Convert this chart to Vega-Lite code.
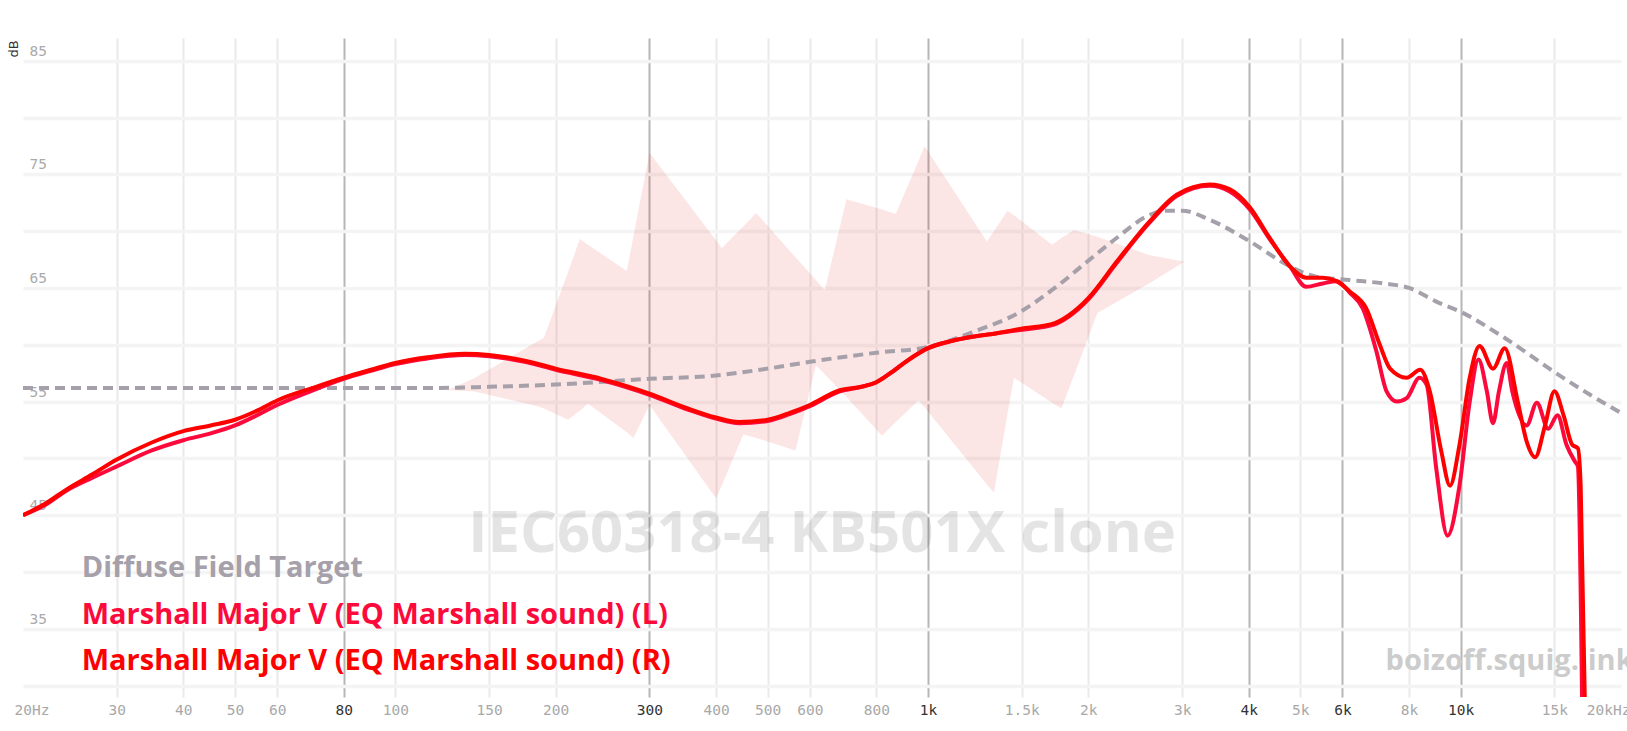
{
  "$schema": "https://vega.github.io/schema/vega-lite/v6.json",
  "width": 1598,
  "height": 659,
  "autosize": {"type": "none"},
  "padding": {"left": 23, "top": 38, "right": 6, "bottom": 34},
  "background": "white",
  "config": {"view": {"stroke": null}},
  "datasets": {
    "band": [
      {"freq": 125, "upper": 56.0, "lower": 56.0},
      {"freq": 140, "upper": 57.0, "lower": 55.9},
      {"freq": 185, "upper": 60.3, "lower": 54.6},
      {"freq": 190, "upper": 60.6, "lower": 54.4},
      {"freq": 211, "upper": 66.4, "lower": 53.4},
      {"freq": 222, "upper": 69.3, "lower": 54.2},
      {"freq": 230, "upper": 68.8, "lower": 54.8},
      {"freq": 272, "upper": 66.5, "lower": 52.3},
      {"freq": 280, "upper": 69.6, "lower": 51.8},
      {"freq": 300, "upper": 76.9, "lower": 54.7},
      {"freq": 400, "upper": 69.2, "lower": 46.5},
      {"freq": 410, "upper": 68.5, "lower": 47.6},
      {"freq": 450, "upper": 70.4, "lower": 52.1},
      {"freq": 476, "upper": 71.6, "lower": 51.8},
      {"freq": 564, "upper": 67.7, "lower": 50.7},
      {"freq": 616, "upper": 65.7, "lower": 58.2},
      {"freq": 640, "upper": 64.8, "lower": 57.4},
      {"freq": 703, "upper": 72.8, "lower": 55.4},
      {"freq": 820, "upper": 71.9, "lower": 52.0},
      {"freq": 870, "upper": 71.5, "lower": 53.2},
      {"freq": 960, "upper": 76.2, "lower": 55.1},
      {"freq": 985, "upper": 77.5, "lower": 54.5},
      {"freq": 1290, "upper": 69.1, "lower": 47.7},
      {"freq": 1330, "upper": 70.0, "lower": 47.0},
      {"freq": 1410, "upper": 71.8, "lower": 53.9},
      {"freq": 1450, "upper": 71.4, "lower": 57.1},
      {"freq": 1710, "upper": 68.8, "lower": 54.9},
      {"freq": 1780, "upper": 69.4, "lower": 54.4},
      {"freq": 1880, "upper": 70.1, "lower": 57.3},
      {"freq": 2080, "upper": 69.5, "lower": 62.8},
      {"freq": 2600, "upper": 67.9, "lower": 65.4},
      {"freq": 3030, "upper": 67.3, "lower": 67.3}
    ],
    "curves": [
      {"series": "target", "freq": 20, "db": 56.2},
      {"series": "target", "freq": 50, "db": 56.2},
      {"series": "target", "freq": 100, "db": 56.2},
      {"series": "target", "freq": 120, "db": 56.2},
      {"series": "target", "freq": 150, "db": 56.3},
      {"series": "target", "freq": 200, "db": 56.5},
      {"series": "target", "freq": 300, "db": 57.0},
      {"series": "target", "freq": 400, "db": 57.3},
      {"series": "target", "freq": 500, "db": 57.9},
      {"series": "target", "freq": 600, "db": 58.5},
      {"series": "target", "freq": 800, "db": 59.3},
      {"series": "target", "freq": 1000, "db": 59.8},
      {"series": "target", "freq": 1210, "db": 61.1},
      {"series": "target", "freq": 1490, "db": 62.9},
      {"series": "target", "freq": 1730, "db": 65.0},
      {"series": "target", "freq": 2000, "db": 67.4},
      {"series": "target", "freq": 2260, "db": 69.4},
      {"series": "target", "freq": 2600, "db": 71.4},
      {"series": "target", "freq": 2770, "db": 71.8},
      {"series": "target", "freq": 3000, "db": 71.8},
      {"series": "target", "freq": 3380, "db": 71.0},
      {"series": "target", "freq": 4020, "db": 69.1},
      {"series": "target", "freq": 4780, "db": 66.9},
      {"series": "target", "freq": 5350, "db": 66.0},
      {"series": "target", "freq": 6190, "db": 65.7},
      {"series": "target", "freq": 7150, "db": 65.4},
      {"series": "target", "freq": 8000, "db": 65.0},
      {"series": "target", "freq": 9000, "db": 63.8},
      {"series": "target", "freq": 10000, "db": 62.9},
      {"series": "target", "freq": 12100, "db": 60.6},
      {"series": "target", "freq": 15000, "db": 57.6},
      {"series": "target", "freq": 17500, "db": 55.6},
      {"series": "target", "freq": 20000, "db": 54.0},

      {"series": "L", "freq": 20, "db": 45.0},
      {"series": "L", "freq": 22, "db": 45.9},
      {"series": "L", "freq": 24.2, "db": 47.2},
      {"series": "L", "freq": 27, "db": 48.3},
      {"series": "L", "freq": 30, "db": 49.3},
      {"series": "L", "freq": 34.9, "db": 50.7},
      {"series": "L", "freq": 40, "db": 51.6},
      {"series": "L", "freq": 45, "db": 52.2},
      {"series": "L", "freq": 50, "db": 52.9},
      {"series": "L", "freq": 55, "db": 53.8},
      {"series": "L", "freq": 60, "db": 54.7},
      {"series": "L", "freq": 71, "db": 56.1},
      {"series": "L", "freq": 80, "db": 57.0},
      {"series": "L", "freq": 90, "db": 57.7},
      {"series": "L", "freq": 100, "db": 58.3},
      {"series": "L", "freq": 115, "db": 58.8},
      {"series": "L", "freq": 135, "db": 59.1},
      {"series": "L", "freq": 150, "db": 59.0},
      {"series": "L", "freq": 175, "db": 58.5},
      {"series": "L", "freq": 200, "db": 57.8},
      {"series": "L", "freq": 244, "db": 56.9},
      {"series": "L", "freq": 270, "db": 56.3},
      {"series": "L", "freq": 300, "db": 55.6},
      {"series": "L", "freq": 354, "db": 54.3},
      {"series": "L", "freq": 400, "db": 53.5},
      {"series": "L", "freq": 442, "db": 53.1},
      {"series": "L", "freq": 500, "db": 53.3},
      {"series": "L", "freq": 550, "db": 53.9},
      {"series": "L", "freq": 600, "db": 54.6},
      {"series": "L", "freq": 683, "db": 55.9},
      {"series": "L", "freq": 750, "db": 56.3},
      {"series": "L", "freq": 800, "db": 56.7},
      {"series": "L", "freq": 850, "db": 57.5},
      {"series": "L", "freq": 908, "db": 58.5},
      {"series": "L", "freq": 1000, "db": 59.7},
      {"series": "L", "freq": 1100, "db": 60.3},
      {"series": "L", "freq": 1210, "db": 60.7},
      {"series": "L", "freq": 1340, "db": 61.0},
      {"series": "L", "freq": 1490, "db": 61.3},
      {"series": "L", "freq": 1730, "db": 61.8},
      {"series": "L", "freq": 1840, "db": 62.5},
      {"series": "L", "freq": 2000, "db": 64.0},
      {"series": "L", "freq": 2260, "db": 67.2},
      {"series": "L", "freq": 2600, "db": 70.7},
      {"series": "L", "freq": 2930, "db": 73.1},
      {"series": "L", "freq": 3380, "db": 74.0},
      {"series": "L", "freq": 3680, "db": 73.5},
      {"series": "L", "freq": 4020, "db": 71.9},
      {"series": "L", "freq": 4380, "db": 69.3},
      {"series": "L", "freq": 4780, "db": 66.9},
      {"series": "L", "freq": 5130, "db": 65.1},
      {"series": "L", "freq": 5510, "db": 65.4},
      {"series": "L", "freq": 5850, "db": 65.6},
      {"series": "L", "freq": 6190, "db": 64.6},
      {"series": "L", "freq": 6550, "db": 63.2},
      {"series": "L", "freq": 6950, "db": 59.4},
      {"series": "L", "freq": 7260, "db": 55.9},
      {"series": "L", "freq": 7590, "db": 55.0},
      {"series": "L", "freq": 7920, "db": 55.3},
      {"series": "L", "freq": 8370, "db": 57.1},
      {"series": "L", "freq": 8630, "db": 56.5},
      {"series": "L", "freq": 9000, "db": 49.1},
      {"series": "L", "freq": 9450, "db": 43.2},
      {"series": "L", "freq": 9950, "db": 47.6},
      {"series": "L", "freq": 10400, "db": 55.0},
      {"series": "L", "freq": 10800, "db": 58.7},
      {"series": "L", "freq": 11200, "db": 55.9},
      {"series": "L", "freq": 11500, "db": 53.1},
      {"series": "L", "freq": 11800, "db": 55.9},
      {"series": "L", "freq": 12200, "db": 58.4},
      {"series": "L", "freq": 12500, "db": 55.9},
      {"series": "L", "freq": 13300, "db": 52.9},
      {"series": "L", "freq": 13900, "db": 54.9},
      {"series": "L", "freq": 14600, "db": 52.6},
      {"series": "L", "freq": 15200, "db": 53.8},
      {"series": "L", "freq": 15800, "db": 51.2},
      {"series": "L", "freq": 16400, "db": 49.7},
      {"series": "L", "freq": 16600, "db": 49.3},
      {"series": "L", "freq": 16900, "db": 29.0},

      {"series": "R", "freq": 20, "db": 45.0},
      {"series": "R", "freq": 22, "db": 46.0},
      {"series": "R", "freq": 24.2, "db": 47.3},
      {"series": "R", "freq": 27, "db": 48.6},
      {"series": "R", "freq": 30, "db": 49.9},
      {"series": "R", "freq": 34.9, "db": 51.4},
      {"series": "R", "freq": 40, "db": 52.4},
      {"series": "R", "freq": 45, "db": 52.9},
      {"series": "R", "freq": 50, "db": 53.4},
      {"series": "R", "freq": 55, "db": 54.2},
      {"series": "R", "freq": 60, "db": 55.1},
      {"series": "R", "freq": 71, "db": 56.3},
      {"series": "R", "freq": 80, "db": 57.1},
      {"series": "R", "freq": 90, "db": 57.8},
      {"series": "R", "freq": 100, "db": 58.4},
      {"series": "R", "freq": 115, "db": 58.9},
      {"series": "R", "freq": 135, "db": 59.2},
      {"series": "R", "freq": 150, "db": 59.1},
      {"series": "R", "freq": 175, "db": 58.6},
      {"series": "R", "freq": 200, "db": 57.9},
      {"series": "R", "freq": 244, "db": 57.0},
      {"series": "R", "freq": 270, "db": 56.4},
      {"series": "R", "freq": 300, "db": 55.7},
      {"series": "R", "freq": 354, "db": 54.4},
      {"series": "R", "freq": 400, "db": 53.6},
      {"series": "R", "freq": 442, "db": 53.2},
      {"series": "R", "freq": 500, "db": 53.4},
      {"series": "R", "freq": 550, "db": 54.0},
      {"series": "R", "freq": 600, "db": 54.7},
      {"series": "R", "freq": 683, "db": 56.0},
      {"series": "R", "freq": 750, "db": 56.3},
      {"series": "R", "freq": 800, "db": 56.7},
      {"series": "R", "freq": 850, "db": 57.5},
      {"series": "R", "freq": 908, "db": 58.5},
      {"series": "R", "freq": 1000, "db": 59.7},
      {"series": "R", "freq": 1100, "db": 60.3},
      {"series": "R", "freq": 1210, "db": 60.7},
      {"series": "R", "freq": 1340, "db": 61.0},
      {"series": "R", "freq": 1490, "db": 61.4},
      {"series": "R", "freq": 1730, "db": 61.9},
      {"series": "R", "freq": 1840, "db": 62.6},
      {"series": "R", "freq": 2000, "db": 64.1},
      {"series": "R", "freq": 2260, "db": 67.3},
      {"series": "R", "freq": 2600, "db": 70.8},
      {"series": "R", "freq": 2930, "db": 73.2},
      {"series": "R", "freq": 3380, "db": 74.1},
      {"series": "R", "freq": 3680, "db": 73.7},
      {"series": "R", "freq": 4020, "db": 72.1},
      {"series": "R", "freq": 4380, "db": 69.4},
      {"series": "R", "freq": 4780, "db": 66.9},
      {"series": "R", "freq": 5130, "db": 65.9},
      {"series": "R", "freq": 5510, "db": 65.9},
      {"series": "R", "freq": 5850, "db": 65.6},
      {"series": "R", "freq": 6190, "db": 64.7},
      {"series": "R", "freq": 6650, "db": 63.2},
      {"series": "R", "freq": 7050, "db": 60.0},
      {"series": "R", "freq": 7370, "db": 57.9},
      {"series": "R", "freq": 7920, "db": 57.1},
      {"series": "R", "freq": 8400, "db": 57.8},
      {"series": "R", "freq": 8750, "db": 55.9},
      {"series": "R", "freq": 9200, "db": 50.6},
      {"series": "R", "freq": 9550, "db": 47.6},
      {"series": "R", "freq": 9950, "db": 51.2},
      {"series": "R", "freq": 10400, "db": 57.1},
      {"series": "R", "freq": 10850, "db": 59.9},
      {"series": "R", "freq": 11500, "db": 57.9},
      {"series": "R", "freq": 12100, "db": 59.7},
      {"series": "R", "freq": 12800, "db": 55.0},
      {"series": "R", "freq": 13300, "db": 51.5},
      {"series": "R", "freq": 13800, "db": 50.1},
      {"series": "R", "freq": 14400, "db": 52.9},
      {"series": "R", "freq": 15000, "db": 55.9},
      {"series": "R", "freq": 15600, "db": 53.8},
      {"series": "R", "freq": 16200, "db": 51.2},
      {"series": "R", "freq": 16600, "db": 50.9},
      {"series": "R", "freq": 16800, "db": 47.6},
      {"series": "R", "freq": 17100, "db": 29.0}
    ],
    "legend": [
      {"series": "target", "label": "Diffuse Field Target", "freq": 25.78, "db": 39.58},
      {"series": "L", "label": "Marshall Major V (EQ Marshall sound) (L)", "freq": 25.78, "db": 35.44},
      {"series": "R", "label": "Marshall Major V (EQ Marshall sound) (R)", "freq": 25.78, "db": 31.39}
    ],
    "watermark": [
      {"label": "IEC60318-4 KB501X clone", "freq": 633, "db": 41.8}
    ],
    "site": [
      {"label": "boizoff.squig.link", "freq": 7230, "db": 31.39}
    ]
  },
  "layer": [
    {
      "data": {"name": "band"},
      "mark": {"type": "area", "color": "#e00000", "opacity": 0.1, "interpolate": "linear"},
      "encoding": {
        "x": {
          "field": "freq", "type": "quantitative",
          "scale": {"type": "log", "domain": [20, 20000], "nice": false},
          "axis": {
            "title": null,
            "values": [20, 30, 40, 50, 60, 80, 100, 150, 200, 300, 400, 500, 600, 800, 1000, 1500, 2000, 3000, 4000, 5000, 6000, 8000, 10000, 15000, 20000],
            "labelExpr": "datum.value == 20 ? '20Hz' : datum.value == 20000 ? '20kHz' : datum.value >= 1000 ? (datum.value / 1000) + 'k' : datum.value + ''",
            "grid": true,
            "gridWidth": 2,
            "gridColor": {"condition": {"test": "indexof([80,300,1000,4000,6000,10000], datum.value) >= 0", "value": "#b6b6b6"}, "value": "#eaeaea"},
            "gridOpacity": {"condition": {"test": "datum.value == 20 || datum.value == 20000", "value": 0}, "value": 1},
            "labelColor": {"condition": {"test": "indexof([80,300,1000,4000,6000,10000], datum.value) >= 0", "value": "#333333"}, "value": "#a8a8a8"},
            "ticks": false,
            "domain": false,
            "labelFont": "DejaVu Sans Mono",
            "labelFontSize": 14.5,
            "labelPadding": 6,
            "labelFlush": true,
            "labelFlushOffset": 9,
            "labelOverlap": false
          }
        },
        "y": {
          "field": "upper", "type": "quantitative",
          "scale": {"domain": [29, 87], "nice": false, "zero": false},
          "axis": {
            "title": "dB",
            "titleX": -9.5,
            "titleY": 10.5,
            "titleAngle": 270,
            "titleAlign": "center",
            "titleBaseline": "middle",
            "titleFont": "DejaVu Sans",
            "titleFontSize": 13,
            "titleFontWeight": "normal",
            "titleColor": "#333333",
            "values": [30, 35, 40, 45, 50, 55, 60, 65, 70, 75, 80, 85],
            "labelExpr": "datum.value % 10 == 5 ? datum.value + '' : ''",
            "grid": true,
            "gridColor": "#f4f4f4",
            "gridWidth": 3.5,
            "ticks": false,
            "domain": false,
            "labelAlign": "left",
            "labelBaseline": "middle",
            "labelPadding": -6,
            "labelOffset": -9.5,
            "labelFont": "DejaVu Sans Mono",
            "labelFontSize": 14.5,
            "labelColor": "#aaaaaa"
          }
        },
        "y2": {"field": "lower"}
      }
    },
    {
      "data": {"name": "watermark"},
      "mark": {"type": "text", "font": "Open Sans", "fontWeight": "bold", "fontSize": 58, "align": "center", "baseline": "alphabetic", "color": "#000000", "opacity": 0.1},
      "encoding": {
        "x": {"field": "freq", "type": "quantitative"},
        "y": {"field": "db", "type": "quantitative"},
        "text": {"field": "label"}
      }
    },
    {
      "data": {"name": "site"},
      "mark": {"type": "text", "font": "Open Sans", "fontWeight": "bold", "fontSize": 29, "align": "left", "baseline": "alphabetic", "color": "#cccccc"},
      "encoding": {
        "x": {"field": "freq", "type": "quantitative"},
        "y": {"field": "db", "type": "quantitative"},
        "text": {"field": "label"}
      }
    },
    {
      "data": {"name": "curves"},
      "transform": [{"filter": "datum.series == 'target'"}],
      "mark": {"type": "line", "strokeWidth": 4, "strokeDash": [10, 6], "interpolate": "monotone", "clip": true},
      "encoding": {
        "x": {"field": "freq", "type": "quantitative"},
        "y": {"field": "db", "type": "quantitative"},
        "color": {"field": "series", "type": "nominal", "scale": {"domain": ["target", "L", "R"], "range": ["#a5a0aa", "#fc0a3c", "#ff0000"]}, "legend": null}
      }
    },
    {
      "data": {"name": "curves"},
      "transform": [{"filter": "datum.series == 'L'"}],
      "mark": {"type": "line", "strokeWidth": 4, "interpolate": "monotone", "clip": true},
      "encoding": {
        "x": {"field": "freq", "type": "quantitative"},
        "y": {"field": "db", "type": "quantitative"},
        "color": {"field": "series", "type": "nominal", "legend": null}
      }
    },
    {
      "data": {"name": "curves"},
      "transform": [{"filter": "datum.series == 'R'"}],
      "mark": {"type": "line", "strokeWidth": 4, "interpolate": "monotone", "clip": true},
      "encoding": {
        "x": {"field": "freq", "type": "quantitative"},
        "y": {"field": "db", "type": "quantitative"},
        "color": {"field": "series", "type": "nominal", "legend": null}
      }
    },
    {
      "data": {"name": "legend"},
      "mark": {"type": "text", "font": "Open Sans", "fontWeight": "bold", "fontSize": 29, "align": "left", "baseline": "alphabetic"},
      "encoding": {
        "x": {"field": "freq", "type": "quantitative"},
        "y": {"field": "db", "type": "quantitative"},
        "text": {"field": "label"},
        "color": {"field": "series", "type": "nominal", "legend": null}
      }
    }
  ]
}
